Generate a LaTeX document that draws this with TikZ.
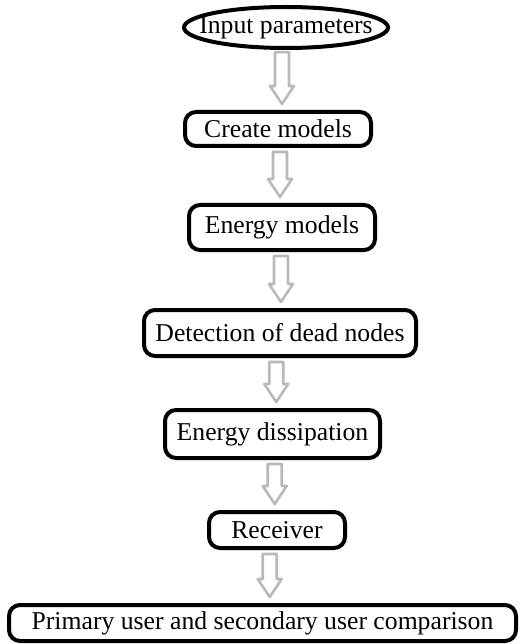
\documentclass[tikz,border=0pt]{standalone}
\usepackage{fontspec}
\setmainfont{Liberation Serif}
\usetikzlibrary{calc}

% hollow grey block arrow from one node down to the next
\newcommand{\hollowarrow}[2]{%
\draw[hollow] let \p1=(#1.south), \p2=(#2.north), \p3=($(#1.south)!0.5!(#2.north)$) in
  ({\x3-7pt},{\y1-4pt}) -- ({\x3+7pt},{\y1-4pt}) -- ({\x3+7pt},{\y2+24pt})
  -- ({\x3+12pt},{\y2+24pt}) -- ({\x3},{\y2+6pt}) -- ({\x3-12pt},{\y2+24pt})
  -- ({\x3-7pt},{\y2+24pt}) -- cycle;}

\begin{document}
\begin{tikzpicture}[x=1pt,y=-1pt,
  font=\fontsize{25.7}{30}\selectfont,
  box/.style={draw=black,line width=4pt,rounded corners=11pt,inner sep=2pt},
  hollow/.style={draw=gray!55,line width=2.6pt,fill=white,line join=round}]
\useasboundingbox (0,0) rectangle (520,644);
\node[minimum width=204pt,minimum height=41pt,inner sep=0pt] (inp) at (286,27.5) {Input parameters};
\draw[line width=4pt] (inp.center) ellipse [x radius=102pt, y radius=20.5pt];
\node[box,minimum width=186pt,minimum height=34pt] (create) at (278,129) {Create models};
\node[box,minimum width=186pt,minimum height=45pt] (energy) at (282,227.5) {Energy models};
\node[box,minimum width=272pt,minimum height=46pt] (dead) at (280,333) {Detection of dead nodes};
\node[box,minimum width=215pt,minimum height=48pt] (dissip) at (272.5,434) {Energy dissipation};
\node[box,minimum width=136pt,minimum height=36pt] (recv) at (277,530) {Receiver};
\node[box,minimum width=507pt,minimum height=36pt] (comp) at (262.5,623) {Primary user and secondary user comparison};
\hollowarrow{inp}{create}
\hollowarrow{create}{energy}
\hollowarrow{energy}{dead}
\hollowarrow{dead}{dissip}
\hollowarrow{dissip}{recv}
\hollowarrow{recv}{comp}
\end{tikzpicture}
\end{document}
